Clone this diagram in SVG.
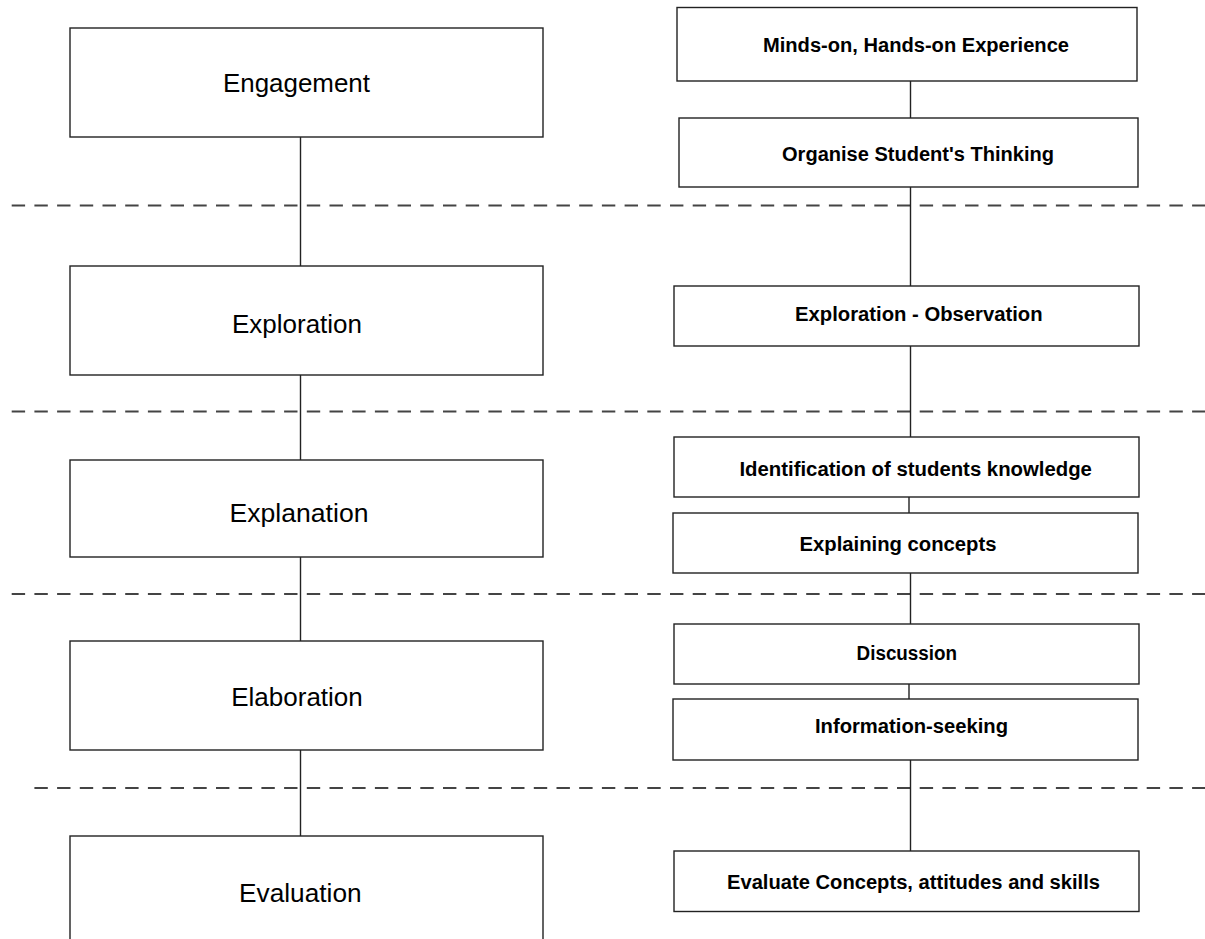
<svg xmlns="http://www.w3.org/2000/svg" width="1205" height="939" viewBox="0 0 1205 939">
<style>
.box{fill:#fff;stroke:#222;stroke-width:1.4}
.con{stroke:#222;stroke-width:1.4;fill:none}
.sep{stroke:#444;stroke-width:2;stroke-dasharray:13.4 9.3;fill:none}
.lt{font-family:"Liberation Sans",Arial,sans-serif;font-size:26px;fill:#000;text-anchor:middle}
.rt{font-family:"Liberation Sans",Arial,sans-serif;font-size:20px;font-weight:bold;fill:#000;text-anchor:middle}
</style>
<rect width="1205" height="939" fill="#fff"/>
<g id="separators">
<line class="sep" x1="11.7" y1="205.5" x2="1205" y2="205.5"/>
<line class="sep" x1="11.7" y1="411.5" x2="1205" y2="411.5"/>
<line class="sep" x1="11.7" y1="594" x2="1205" y2="594"/>
<line class="sep" x1="34.4" y1="788" x2="1205" y2="788"/>
</g>
<g id="connectors">
<line class="con" x1="300.5" y1="137" x2="300.5" y2="266"/>
<line class="con" x1="300.5" y1="375" x2="300.5" y2="460"/>
<line class="con" x1="300.5" y1="557" x2="300.5" y2="641"/>
<line class="con" x1="300.5" y1="750" x2="300.5" y2="836"/>
<line class="con" x1="910.5" y1="81" x2="910.5" y2="118"/>
<line class="con" x1="910.5" y1="187" x2="910.5" y2="286"/>
<line class="con" x1="910.5" y1="346" x2="910.5" y2="437"/>
<line class="con" x1="909" y1="497" x2="909" y2="513"/>
<line class="con" x1="910.5" y1="573" x2="910.5" y2="624"/>
<line class="con" x1="909" y1="684" x2="909" y2="699"/>
<line class="con" x1="910.5" y1="760" x2="910.5" y2="851"/>
</g>
<g id="engagement">
<rect class="box" x="70" y="28" width="473" height="109"/>
<text class="lt" x="296.5" y="91.7" textLength="147" lengthAdjust="spacingAndGlyphs">Engagement</text>
</g>
<g id="exploration">
<rect class="box" x="70" y="266" width="473" height="109"/>
<text class="lt" x="297" y="333">Exploration</text>
</g>
<g id="explanation">
<rect class="box" x="70" y="460" width="473" height="97"/>
<text class="lt" x="299" y="521.7" textLength="139" lengthAdjust="spacingAndGlyphs">Explanation</text>
</g>
<g id="elaboration">
<rect class="box" x="70" y="641" width="473" height="109"/>
<text class="lt" x="297" y="706">Elaboration</text>
</g>
<g id="evaluation">
<rect class="box" x="70" y="836" width="473" height="120"/>
<text class="lt" x="300.3" y="901.5" textLength="122.6" lengthAdjust="spacingAndGlyphs">Evaluation</text>
</g>
<g id="minds-on">
<rect class="box" x="677" y="7.5" width="460" height="73.5"/>
<text class="rt" x="916" y="51.5" textLength="306" lengthAdjust="spacingAndGlyphs">Minds-on, Hands-on Experience</text>
</g>
<g id="organise">
<rect class="box" x="679" y="118" width="459" height="69"/>
<text class="rt" x="918" y="161" textLength="272" lengthAdjust="spacingAndGlyphs">Organise Student's Thinking</text>
</g>
<g id="exploration-observation">
<rect class="box" x="674" y="286" width="465" height="60"/>
<text class="rt" x="918.8" y="320.5" textLength="247.5" lengthAdjust="spacingAndGlyphs">Exploration - Observation</text>
</g>
<g id="identification">
<rect class="box" x="674" y="437" width="465" height="60"/>
<text class="rt" x="915.7" y="476" textLength="352.5" lengthAdjust="spacingAndGlyphs">Identification of students knowledge</text>
</g>
<g id="explaining">
<rect class="box" x="673" y="513" width="465" height="60"/>
<text class="rt" x="898" y="551" textLength="197" lengthAdjust="spacingAndGlyphs">Explaining concepts</text>
</g>
<g id="discussion">
<rect class="box" x="674" y="624" width="465" height="60"/>
<text class="rt" x="906.8" y="660" textLength="100.4" lengthAdjust="spacingAndGlyphs">Discussion</text>
</g>
<g id="information-seeking">
<rect class="box" x="673" y="699" width="465" height="61"/>
<text class="rt" x="911.5" y="733" textLength="193" lengthAdjust="spacingAndGlyphs">Information-seeking</text>
</g>
<g id="evaluate">
<rect class="box" x="674" y="851" width="465" height="60.5"/>
<text class="rt" x="913.5" y="888.5" textLength="373" lengthAdjust="spacingAndGlyphs">Evaluate Concepts, attitudes and skills</text>
</g>
</svg>
